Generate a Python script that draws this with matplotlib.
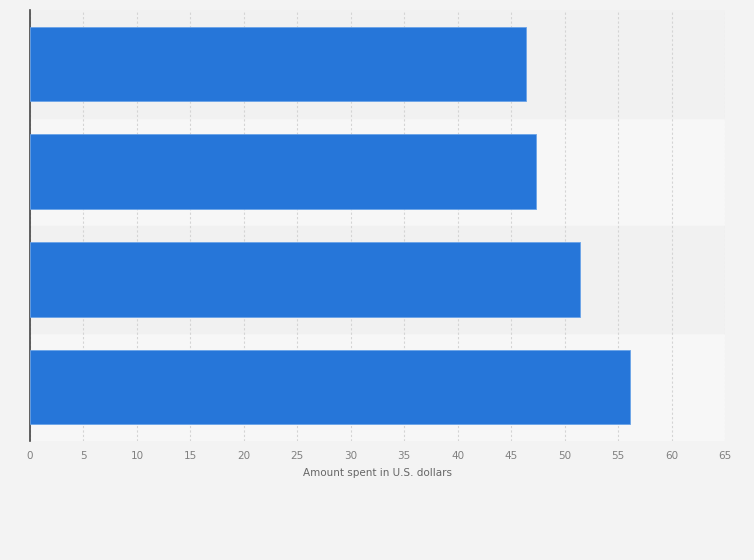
import matplotlib.pyplot as plt

# Values (category labels are not shown in the original)
rows = ["Row 1", "Row 2", "Row 3", "Row 4"]
amounts = [46.4, 47.3, 51.4, 56.1]
x_ticks = [0, 5, 10, 15, 20, 25, 30, 35, 40, 45, 50, 55, 60, 65]

fig = plt.figure(figsize=(7.54, 5.6), dpi=100)
fig.patch.set_facecolor("#f3f3f3")
ax = fig.add_axes([30 / 754, 1 - 441 / 560, 695 / 754, 431 / 560])
ax.set_facecolor("#f7f7f7")

# Alternating row bands
for i in range(len(rows)):
    if i % 2 == 0:
        ax.axhspan(i - 0.5, i + 0.5, color="#f1f1f1", zorder=0)

ax.barh(range(len(rows)), amounts, height=0.69, color="#2676d9",
        edgecolor="#6aa3e8", linewidth=0.6, zorder=3)

ax.set_xlim(0, 65)
ax.set_ylim(len(rows) - 0.5, -0.5)
ax.set_xticks(x_ticks)
ax.set_xticklabels([str(t) for t in x_ticks], fontsize=7.5, color="#808080")
ax.set_yticks([])
ax.tick_params(axis="x", length=0, pad=7)
ax.grid(axis="x", color="#d4d4d4", linestyle=(0, (2, 2)), linewidth=0.8, zorder=1)

for side in ["top", "right", "bottom"]:
    ax.spines[side].set_visible(False)
ax.spines["left"].set_color("#444444")
ax.spines["left"].set_linewidth(1.2)

ax.set_xlabel("Amount spent in U.S. dollars", fontsize=7.5, color="#666666", labelpad=5)

plt.savefig("out.png", dpi=100, facecolor=fig.get_facecolor())
